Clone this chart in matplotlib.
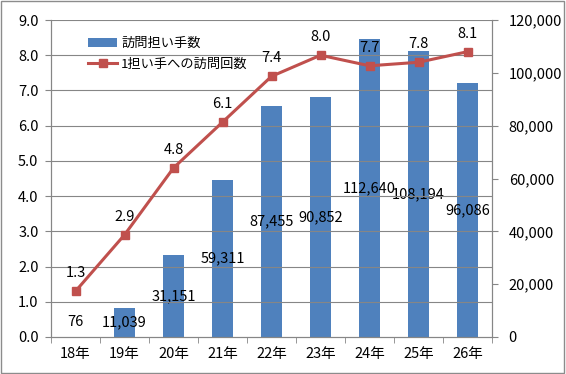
import matplotlib
matplotlib.use("Agg")
import matplotlib.pyplot as plt
from matplotlib.patches import Rectangle

plt.rcParams['font.family'] = ['Noto Sans CJK JP', 'DejaVu Sans']

categories = ["18年", "19年", "20年", "21年", "22年", "23年", "24年", "25年", "26年"]
helpers = [76, 11039, 31151, 59311, 87455, 90852, 112640, 108194, 96086]
visits = [1.3, 2.9, 4.8, 6.1, 7.4, 8.0, 7.7, 7.8, 8.1]
left_ticks = [0.0, 1.0, 2.0, 3.0, 4.0, 5.0, 6.0, 7.0, 8.0, 9.0]
right_ticks = [0, 20000, 40000, 60000, 80000, 100000, 120000]

bar_color = "#4F81BD"
line_color = "#C0504D"
fs = 10.5

fig = plt.figure(figsize=(5.66, 3.74), dpi=100)
fig.patches.append(Rectangle((0.002, 0.003), 0.995, 0.993, transform=fig.transFigure,
                             fill=False, edgecolor="#8c8c8c", linewidth=1.0))
axL = fig.add_axes([51/566, 1-337/374, (492-51)/566, (337-20)/374])
axR = axL.twinx()

x = list(range(len(categories)))
axR.bar(x, helpers, width=0.41, color=bar_color, zorder=2, label="訪問担い手数")
axR.set_ylim(0, 120000)
axR.set_yticks(right_ticks)
axR.set_yticklabels([f"{v:,}" for v in right_ticks], fontsize=fs)
for xi, v in zip(x, helpers):
    axR.text(xi, max(v/2, 5600), f"{v:,}", ha="center", va="center", fontsize=fs, zorder=5)

axL.set_zorder(axR.get_zorder()+1)
axL.patch.set_visible(False)
axL.plot(x, visits, color=line_color, linewidth=2.2, marker="s", markersize=5.5,
         zorder=4, label="1担い手への訪問回数")
for xi, v in zip(x, visits):
    axL.annotate(f"{v:.1f}", (xi, v), xytext=(0, 8), textcoords="offset points",
                 ha="center", va="bottom", fontsize=fs)
axL.set_ylim(0, 9)
axL.set_yticks(left_ticks)
axL.set_yticklabels([f"{v:.1f}" for v in left_ticks], fontsize=fs)
axL.set_xlim(-0.5, len(categories)-0.5)
axL.set_xticks(x)
axL.set_xticklabels(categories, fontsize=fs)
axL.tick_params(axis="x", length=0, pad=7)
axL.set_xticks([i-0.5 for i in range(len(categories)+1)], minor=True)
axL.tick_params(axis="x", which="minor", length=4, color="#868686")
axL.tick_params(axis="y", length=4, color="#868686", pad=5)
axR.tick_params(axis="y", length=4, color="#868686", pad=8)
for v in left_ticks[1:]:
    axL.axhline(v, color="#868686", linewidth=0.8, zorder=0)
axR.set_axisbelow(True)
for ax in (axL, axR):
    ax.spines["top"].set_visible(False)
    for s in ("left", "right", "bottom"):
        ax.spines[s].set_color("#868686")

h1, l1 = axR.get_legend_handles_labels()
h2, l2 = axL.get_legend_handles_labels()
axL.legend(h1+h2, l1+l2, loc="upper left", bbox_to_anchor=(0.06, 0.98), frameon=False,
           fontsize=9.5, handlelength=2.2, labelspacing=0.6, handletextpad=0.3,
           borderpad=0.3)

fig.savefig("out.png", dpi=100)
